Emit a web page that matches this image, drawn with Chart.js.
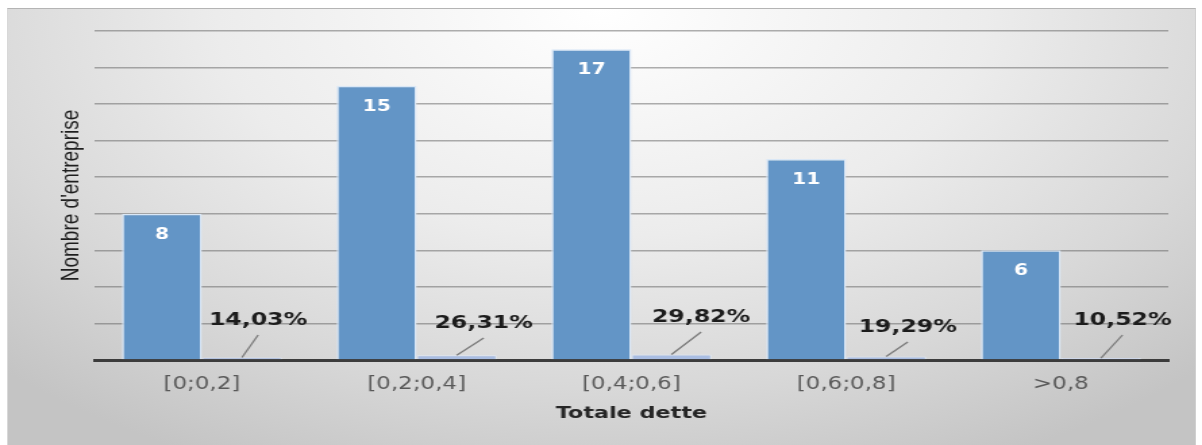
<!DOCTYPE html>
<html>
<head>
<meta charset="utf-8">
<script src="https://cdn.jsdelivr.net/npm/chart.js@4/dist/chart.umd.min.js"></script>
<style>
  html, body { margin: 0; padding: 0; background: #fff; overflow: hidden; }
  #panel {
    position: absolute; left: 7px; top: 8px; width: 1187px; height: 440px;
    border-top: 1px solid #b4b4b4; border-left: 1px solid #d8d8d8; border-right: 1px solid #d0d0d0;
    background: radial-gradient(ellipse 72% 115% at 50% 0%, #ffffff 0%, #ececec 45%, #d8d8d8 75%, #c4c4c4 100%);
  }
  /* the chart is drawn narrow and widened, like the exported workbook picture */
  #myChart { position: absolute; left: 0; top: 0; transform: scaleX(1.3506); transform-origin: 0 0; }
</style>
</head>
<body>
<div id="panel"></div>
<canvas id="myChart" width="890" height="445"></canvas>
<script>
let labels = ["[0;0,2]", "[0,2;0,4]", "[0,4;0,6]", "[0,6;0,8]", ">0,8"];
let counts = [8, 15, 17, 11, 6];
let shares = [0.1403, 0.2631, 0.2982, 0.1929, 0.1052];

// where each percent label sits relative to its little bar
let pctShiftX = [12, 20, 22, 16, 16];
let pctRise = [40, 37, 43, 33, 40];

let fmtPct = v => (v * 100).toFixed(2).replace(".", ",") + "%";

function boldText(ctx, txt, x, y, size, color) {
    ctx.save();
    ctx.font = "bold " + size + "px 'DejaVu Sans'";
    ctx.fillStyle = color;
    ctx.textAlign = "center";
    ctx.textBaseline = "middle";
    ctx.fillText(txt, x, y);
    ctx.restore();
}

let valueLabels = {
    id: "valueLabels",
    afterDatasetsDraw(chart) {
        let ctx = chart.ctx;
        chart.getDatasetMeta(0).data.forEach((bar, i) => {
            boldText(ctx, String(counts[i]), bar.x, bar.y + 21, 15, "#ffffff");
        });
        let base = chart.chartArea.bottom;
        chart.getDatasetMeta(1).data.forEach((bar, i) => {
            let lx = bar.x + pctShiftX[i];
            let ly = base - pctRise[i];
            ctx.save();
            ctx.strokeStyle = "#7a7a7a";
            ctx.lineWidth = 1.3;
            ctx.beginPath();
            ctx.moveTo(bar.x, bar.y);
            ctx.lineTo(lx, ly + 15);
            ctx.stroke();
            ctx.restore();
            boldText(ctx, fmtPct(shares[i]), lx, ly, 17.5, "#1c1c1c");
        });
    }
};

let ctx = document.getElementById("myChart").getContext("2d");
let myChart = new Chart(ctx, {
    type: "bar",
    data: {
        labels: labels,
        datasets: [
            {
                label: "Nombre",
                data: counts,
                backgroundColor: "#6395c6",
                borderColor: "#d9e7f6",
                borderWidth: 1.5,
            },
            {
                label: "Pourcentage",
                data: shares,
                backgroundColor: "#a9bde2",
                borderColor: "#dfe8f6",
                borderWidth: 1,
            },
        ],
    },
    options: {
        responsive: false,
        animation: false,
        layout: { padding: { left: 0, right: 25, top: 31, bottom: 0 } },
        datasets: { bar: { categoryPercentage: 0.745, barPercentage: 1.0 } },
        plugins: {
            legend: { display: false },
            tooltip: { enabled: false },
        },
        scales: {
            x: {
                grid: { display: false, drawTicks: false },
                border: { display: true, color: "#3c3c3c", width: 3 },
                ticks: {
                    padding: 14,
                    color: "#595959",
                    font: { family: "'DejaVu Sans'", size: 17 },
                },
                title: {
                    display: true,
                    text: "Totale dette",
                    color: "#262626",
                    font: { family: "'DejaVu Sans'", size: 16.5, weight: "bold" },
                    padding: { top: 0, bottom: 21 },
                },
                afterFit(scale) { scale.height = 85; },
            },
            y: {
                min: 0,
                max: 18,
                ticks: { display: false, stepSize: 2 },
                grid: { color: "rgba(95,95,95,0.5)", lineWidth: 1.5, drawTicks: false },
                border: { display: false },
                title: {
                    display: true,
                    text: "Nombre d'entreprise",
                    color: "#1e1e1e",
                    font: { family: "'Liberation Sans', Arial, sans-serif", size: 19 },
                    padding: { top: 41, bottom: 0 },
                },
                afterFit(scale) { scale.width = 70; },
            },
        },
    },
    plugins: [valueLabels],
});
</script>
</body>
</html>
